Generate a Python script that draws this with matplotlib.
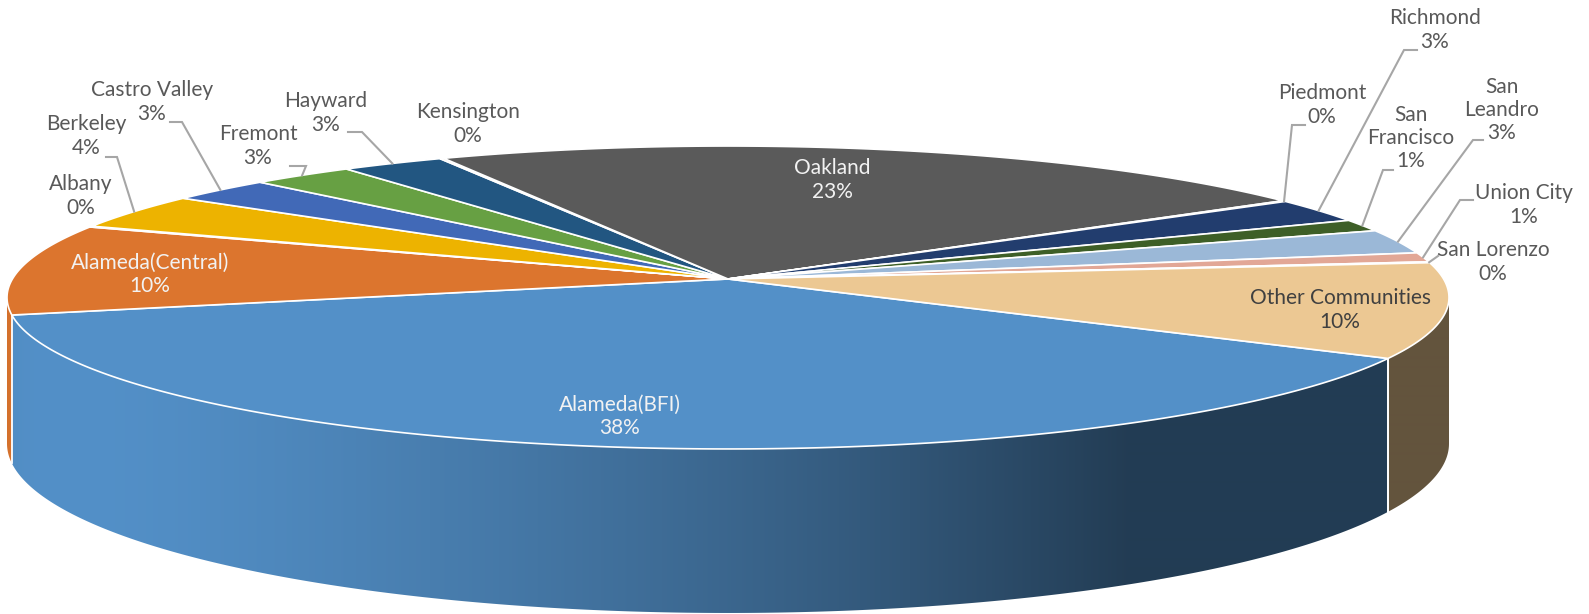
import numpy as np
import matplotlib.pyplot as plt
from matplotlib.colors import to_rgb
from matplotlib.patches import Polygon

plt.rcParams['font.family'] = ['Lato', 'DejaVu Sans']

# share of participants by community (percent), in series order
communities = ["Alameda(BFI)", "Alameda(Central)", "Albany", "Berkeley",
               "Castro Valley", "Fremont", "Hayward", "Kensington", "Oakland",
               "Piedmont", "Richmond", "San Francisco", "San Leandro",
               "Union City", "San Lorenzo", "Other Communities"]
shares = [37.9, 9.7, 0.1, 3.8, 2.6, 2.6, 2.6, 0.1, 22.8,
          0.1, 2.6, 1.3, 2.6, 1.0, 0.1, 10.1]
colors = ["#5390C8", "#DC752E", "#A5A5A5", "#EDB300", "#4169B7", "#67A043",
          "#225681", "#9E480E", "#5A5A5A", "#997300", "#223D6E", "#3E5F27",
          "#9BB8D7", "#E2A796", "#B7B7B7", "#ECC893"]

W, H = 1589, 614
# pixel geometry of the tilted disc
CX, CY = 728, 279
SX, SY = 715.6, 149.2
K = 0.1221          # perspective foreshortening
DEPTH = 144
START = -30.0       # first slice starts here, slices run clockwise


def project(t, r=1.0):
    t = np.radians(t)
    x, y = r * np.cos(t), r * np.sin(t)
    w = 1 + K * y
    return CX + SX * x / w, CY - SY * y / w, DEPTH / w


def shade(t):
    return 0.42 + 0.58 * np.clip(np.cos(np.radians(t + 150)), 0, None)


fig = plt.figure(figsize=(W / 100, H / 100), dpi=100)
ax = fig.add_axes([0, 0, 1, 1])
ax.set_xlim(0, W)
ax.set_ylim(H, 0)
ax.axis('off')

total = sum(shares)
spans = []
a = START
for s in shares:
    a1 = a - s / total * 360
    spans.append((a, a1))
    a = a1

# visible rim runs between the two silhouette points
vis_hi = -np.degrees(np.arcsin(K))
vis_lo = -180 - vis_hi

# column -> rim angle, used for the side lighting
t_grid = np.linspace(vis_lo, vis_hi, 2000)
x_grid = project(t_grid)[0]
cols = np.arange(W) + 0.5
col_shade = shade(np.interp(cols, x_grid, t_grid))

rim_edges = []
for (a0, a1), c in zip(spans, colors):
    for off in (0, 360, -360):
        l2, h2 = max(a1 + off, vis_lo), min(a0 + off, vis_hi)
        if h2 <= l2:
            continue
        ts = np.linspace(h2, l2, max(3, int((h2 - l2) * 2)))
        xs, ys, ds = project(ts)
        pts = list(zip(xs, ys)) + list(zip(xs[::-1], (ys + ds)[::-1]))
        side = Polygon(pts, closed=True, facecolor='none', edgecolor='none')
        ax.add_patch(side)
        grad = np.array(to_rgb(c))[None, None, :] * col_shade[None, :, None]
        im = ax.imshow(grad, extent=(0, W, H, 0), aspect='auto',
                       interpolation='bilinear', zorder=1)
        im.set_clip_path(side)
        for t in (h2, l2):
            if vis_lo + 0.5 < t < vis_hi - 0.5:
                rim_edges.append(t)

for t in set(rim_edges):
    x, y, d = project(t)
    ax.plot([x, x], [y, y + d], color='white', lw=1.3, zorder=2)

# top faces
for (a0, a1), c in zip(spans, colors):
    ts = np.linspace(a0, a1, max(3, int(abs(a0 - a1) * 2)))
    xs, ys, _ = project(ts)
    pts = [(CX, CY)] + list(zip(xs, ys))
    ax.add_patch(Polygon(pts, closed=True, facecolor=c, edgecolor='white',
                         lw=1.2, joinstyle='round', zorder=3))

wrapped = {"San Francisco": "San\nFrancisco", "San Leandro": "San\nLeandro"}

# label centre, text colour, leader elbow (x start, x end, y)
label_layout = {
    "Alameda(BFI)": ((620, 416), "#F2F2F2", None),
    "Alameda(Central)": ((150, 274), "#F2F2F2", None),
    "Albany": ((81, 196), "#595959", None),
    "Berkeley": ((86, 136), "#595959", (106, 117, 157)),
    "Castro Valley": ((152, 102), "#595959", (170, 182, 122)),
    "Fremont": ((258, 146), "#595959", (290, 306, 166)),
    "Hayward": ((326, 113), "#595959", (348, 362, 132)),
    "Kensington": ((468, 124), "#595959", None),
    "Oakland": ((832, 180), "#F2F2F2", None),
    "Piedmont": ((1322, 105), "#595959", (1305, 1292, 125)),
    "Richmond": ((1435, 30), "#595959", (1417, 1404, 50)),
    "San Francisco": ((1411, 138), "#595959", (1393, 1383, 170)),
    "San Leandro": ((1502, 110), "#595959", (1483, 1473, 140)),
    "Union City": ((1524, 205), "#595959", (1473, 1460, 200)),
    "San Lorenzo": ((1493, 262), "#595959", (1438, 1438, 256)),
    "Other Communities": ((1340, 310), "#404040", None),
}

for name, s, (a0, a1) in zip(communities, shares, spans):
    (lx, ly), tc, elbow = label_layout[name]
    text = f"{wrapped.get(name, name)}\n{s / total * 100:.0f}%"
    ax.text(lx, ly, text, ha='center', va='center', fontsize=15,
            color=tc, linespacing=1.2, zorder=5)
    if elbow is not None:
        ex, ey, _ = project((a0 + a1) / 2)
        ax.plot([elbow[0], elbow[1], ex], [elbow[2], elbow[2], ey],
                color='#A6A6A6', lw=1.5, solid_joinstyle='miter', zorder=4)

fig.savefig('out.png', dpi=100)
